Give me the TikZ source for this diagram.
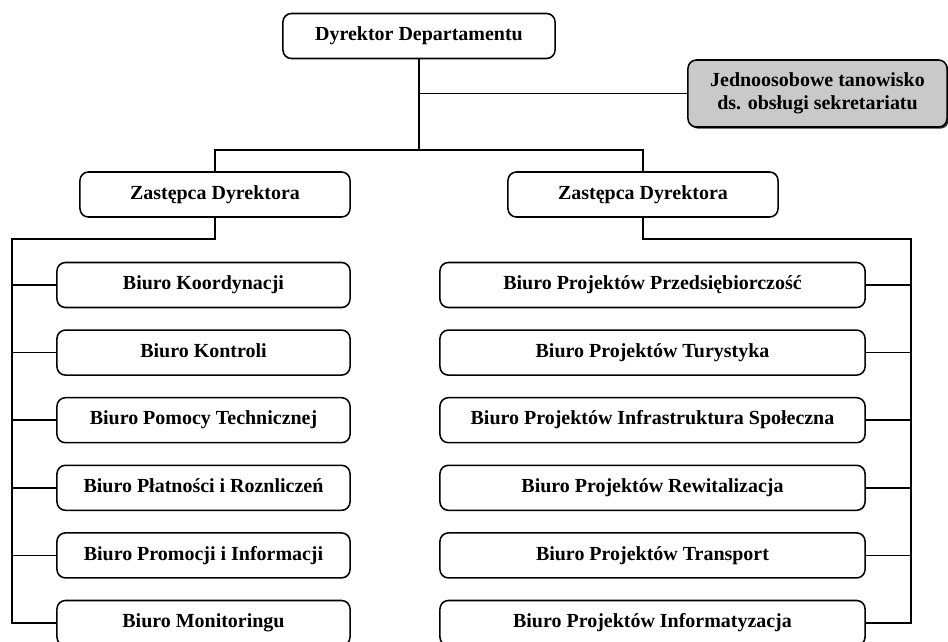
\documentclass[tikz,border=0pt]{standalone}
\usepackage{fontspec}
\setmainfont{Liberation Serif}
\usetikzlibrary{positioning, shadows}

\begin{document}
\begin{tikzpicture}[x=0.025cm, y=-0.025cm,
        unit/.style={draw, rounded corners=6pt, line width=1.1pt, minimum height=1.125cm,
                     align=center, font=\fontsize{14.2}{16.4}\selectfont\bfseries},
        oneline/.style={unit, text height=1.45ex, text depth=0pt},
        link/.style={line width=1.1pt}]
        \useasboundingbox (0,0) rectangle (948,641);
        % top
        \node[oneline, minimum width=6.8cm] (dyr) at (419,36) {Dyrektor Departamentu};
        \node[unit, fill=gray!42, minimum width=6.475cm, minimum height=1.675cm,
              drop shadow={shadow xshift=1.2pt, shadow yshift=-1.2pt, opacity=0.8, fill=black}]
              (sek) at (817.5,93.5) {Jednoosobowe tanowisko\\ds. obsługi sekretariatu};
        \node[oneline, minimum width=6.75cm] (zl) at (215,194.5) {Zastępca Dyrektora};
        \node[oneline, minimum width=6.75cm] (zr) at (643,194.5) {Zastępca Dyrektora};
        % offices
        \foreach \txt [count=\i] in {Biuro Koordynacji, Biuro Kontroli, Biuro Pomocy Technicznej,
                Biuro Płatności i Roznliczeń, Biuro Promocji i Informacji, Biuro Monitoringu}
            \node[oneline, minimum width=7.325cm] (l\i) at (203.5,{285+67.6*(\i-1)}) {\txt};
        \foreach \txt [count=\i] in {Biuro Projektów Przedsiębiorczość, Biuro Projektów Turystyka,
                Biuro Projektów Infrastruktura Społeczna, Biuro Projektów Rewitalizacja,
                Biuro Projektów Transport, Biuro Projektów Informatyzacja}
            \node[oneline, minimum width=10.625cm] (r\i) at (652.5,{285+67.6*(\i-1)}) {\txt};
        % connectors
        \coordinate (split) at (419,150);
        \coordinate (lbus) at (12,239);
        \coordinate (rbus) at (911,239);
        \draw[link] (dyr.south) -- (split);
        \draw[link] (dyr.south |- sek.west) -- (sek.west);
        \draw[link] (zl.north) |- (split) -| (zr.north);
        \draw[link] (zl.south) |- (lbus) |- (l6.west);
        \draw[link] (zr.south) |- (rbus) |- (r6.east);
        \foreach \i in {1,...,5} {
            \draw[link] (l\i.west) -- (l\i.west -| lbus);
            \draw[link] (r\i.east) -- (r\i.east -| rbus);
        }
\end{tikzpicture}
\end{document}
